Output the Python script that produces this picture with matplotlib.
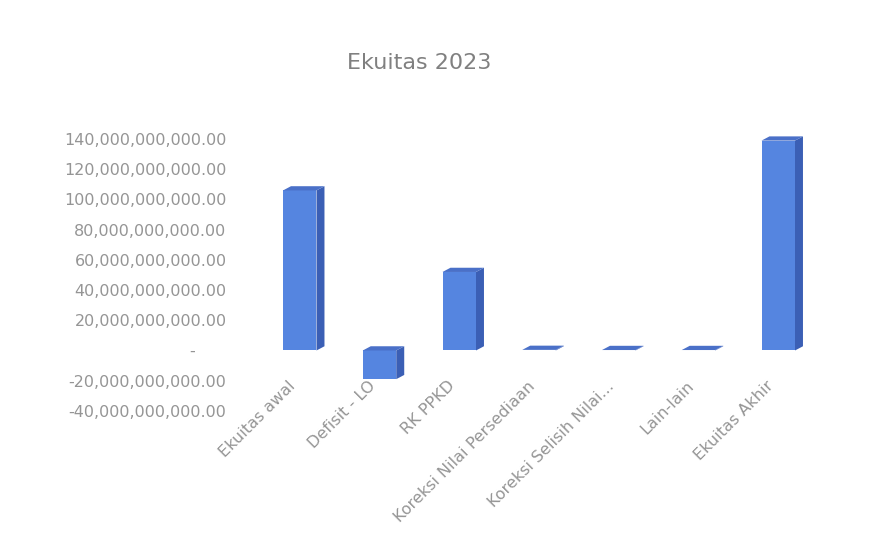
import numpy as np
import matplotlib
matplotlib.use('Agg')
from matplotlib import pyplot as plt
from matplotlib.patches import Polygon
from matplotlib.ticker import FuncFormatter
from matplotlib.transforms import ScaledTranslation

# equity movement 2023 (rupiah)
categories = ['Ekuitas awal', 'Defisit - LO', 'RK PPKD', 'Koreksi Nilai Persediaan',
              'Koreksi Selisih Nilai...', 'Lain-lain', 'Ekuitas Akhir']
values = [106e9, -19e9, 52e9, 0.4e9, 0.3e9, 0.3e9, 139e9]
y_ticks = np.arange(-40e9, 141e9, 20e9)

front_c = '#5585e0'
side_c = '#3b5fb5'
top_c = '#4a70c8'
txt_c = '#959595'

fig = plt.figure(figsize=(8.75, 5.35), dpi=100)
ax = fig.add_axes([0.297, 0.232, 0.638, 0.508])

x = np.arange(len(categories))
w = 0.42
dx, dy = 0.1, 2.8e9   # fake depth of the 3d columns

bars = ax.bar(x, values, width=w, color=front_c, zorder=3, clip_on=False)
for xi, v in zip(x, values):
    lo, hi = min(0, v), max(0, v)
    r = xi + w / 2
    l = xi - w / 2
    side = Polygon([(r, lo), (r + dx, lo + dy), (r + dx, hi + dy), (r, hi)],
                   closed=True, facecolor=side_c, edgecolor='none', zorder=2, clip_on=False)
    top = Polygon([(l, hi), (l + dx, hi + dy), (r + dx, hi + dy), (r, hi)],
                  closed=True, facecolor=top_c, edgecolor='none', zorder=4, clip_on=False)
    ax.add_patch(side)
    ax.add_patch(top)


def fmt(v, pos):
    if abs(v) < 1:
        return '-      '
    return '{:,.2f}'.format(v)


ax.set_xlim(-0.5, len(categories) - 0.5)
ax.set_ylim(-40e9, 140e9)
ax.set_yticks(y_ticks)
ax.yaxis.set_major_formatter(FuncFormatter(fmt))
ax.tick_params(axis='y', length=0, pad=24, labelsize=11.5, labelcolor=txt_c)

ax.spines['bottom'].set_position(('data', 0))
for s in ax.spines.values():
    s.set_visible(False)
ax.set_xticks(x)
ax.set_xticklabels(categories, rotation=45, ha='right', rotation_mode='anchor')
ax.tick_params(axis='x', length=0, pad=20, labelsize=11.5, labelcolor=txt_c)
# category labels sit a bit left of the column centres
shift = ScaledTranslation(-12 / 100, 0, fig.dpi_scale_trans)
for lab in ax.get_xticklabels():
    lab.set_transform(lab.get_transform() + shift)

fig.text(0.479, 0.882, 'Ekuitas 2023', ha='center', va='center', fontsize=16, color='#808080')

plt.savefig('out.png', dpi=100)
